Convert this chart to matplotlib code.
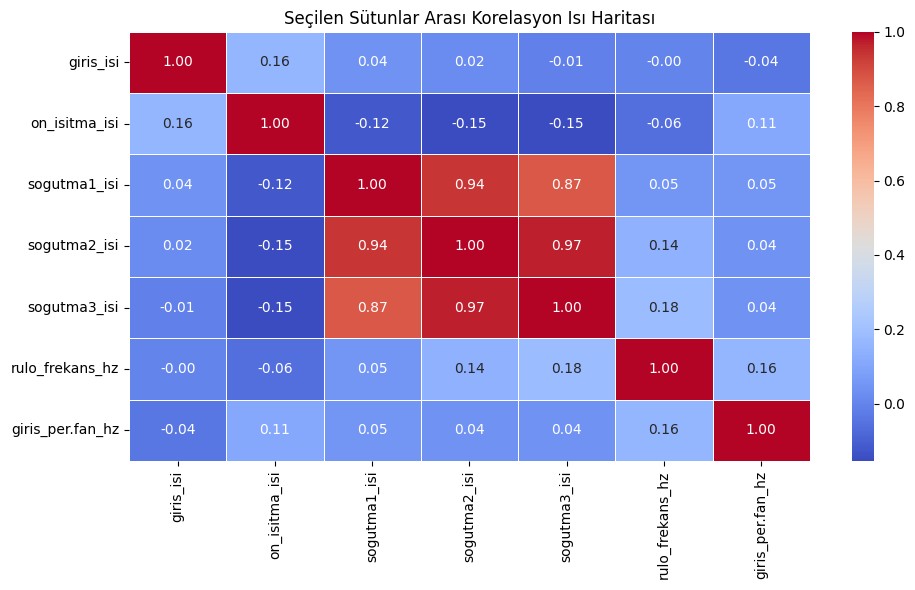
import numpy as np
import pandas as pd
import seaborn as sns
import matplotlib
matplotlib.use("Agg")
import matplotlib.pyplot as plt

# column names of the selected sensors
columns = ["giris_isi", "on_isitma_isi", "sogutma1_isi", "sogutma2_isi",
           "sogutma3_isi", "rulo_frekans_hz", "giris_per.fan_hz"]

# correlation values, one row per column
giris_isi = [1.00, 0.16, 0.04, 0.02, -0.01, -0.003, -0.04]
on_isitma_isi = [0.16, 1.00, -0.12, -0.15, -0.154, -0.06, 0.11]
sogutma1_isi = [0.04, -0.12, 1.00, 0.94, 0.87, 0.05, 0.05]
sogutma2_isi = [0.02, -0.15, 0.94, 1.00, 0.97, 0.14, 0.04]
sogutma3_isi = [-0.01, -0.154, 0.87, 0.97, 1.00, 0.18, 0.04]
rulo_frekans_hz = [-0.003, -0.06, 0.05, 0.14, 0.18, 1.00, 0.16]
giris_per_fan_hz = [-0.04, 0.11, 0.05, 0.04, 0.04, 0.16, 1.00]

corr = pd.DataFrame([giris_isi, on_isitma_isi, sogutma1_isi, sogutma2_isi,
                     sogutma3_isi, rulo_frekans_hz, giris_per_fan_hz],
                    index=columns, columns=columns)

fig = plt.figure(figsize=(9.15, 5.9), dpi=100)
# place heatmap and colorbar to match the original layout
ax = fig.add_axes([0.141, 0.219, 0.744, 0.727])
cax = fig.add_axes([0.931, 0.219, 0.024, 0.727])
sns.heatmap(corr, annot=True, fmt=".2f", cmap="coolwarm", linewidths=0.5,
            ax=ax, cbar_ax=cax)
ax.set_title("Seçilen Sütunlar Arası Korelasyon Isı Haritası")
fig.savefig("out.png")
